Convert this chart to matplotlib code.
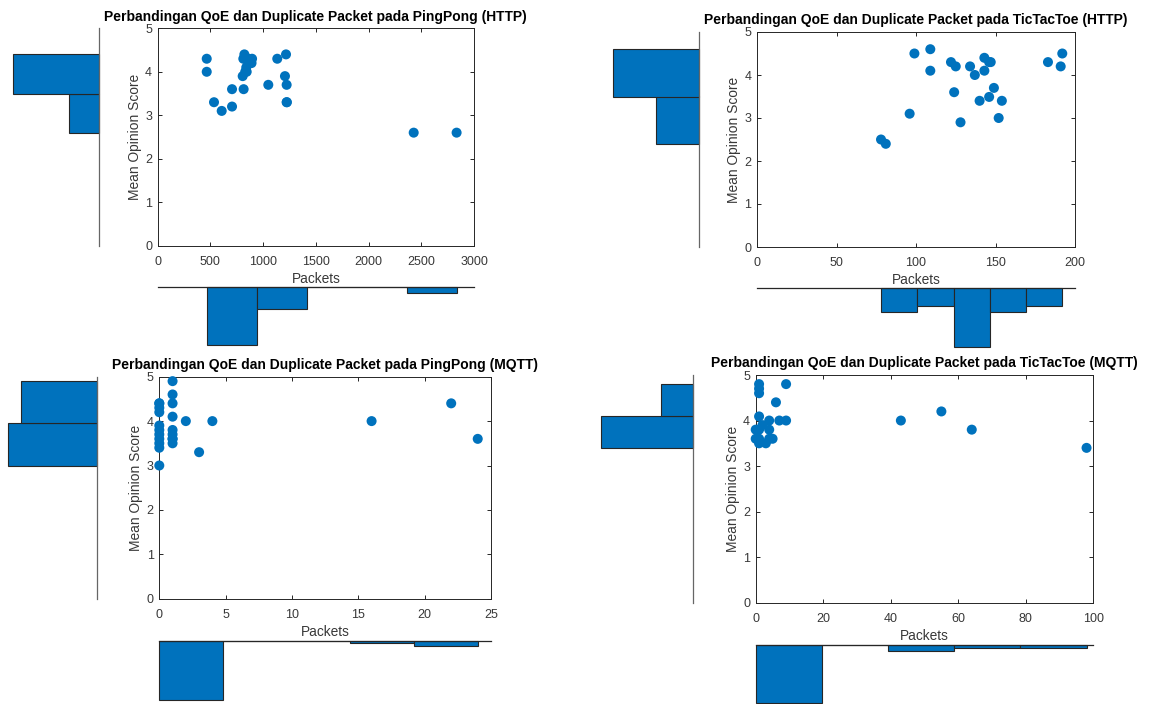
import numpy as np
import matplotlib
matplotlib.use('Agg')
import matplotlib.pyplot as plt

# PingPong (HTTP)
pp_http_packets = [465, 465, 534, 607, 705, 705, 822, 812, 835, 860, 895, 890, 860, 844,
                   830, 806, 815, 840, 1049, 1134, 1217, 1207, 1223, 1223, 1225, 2428, 2835]
pp_http_mos = [4.3, 4.0, 3.3, 3.1, 3.6, 3.2, 4.4, 4.3, 4.3, 4.3, 4.3, 4.2, 4.2, 4.0,
               4.0, 3.9, 3.6, 4.1, 3.7, 4.3, 4.4, 3.9, 3.7, 3.3, 3.3, 2.6, 2.6]

# TicTacToe (HTTP)
ttt_http_packets = [78, 81, 96, 99, 109, 109, 122, 125, 124, 128, 134, 137, 140, 143,
                    143, 146, 147, 146, 149, 152, 154, 183, 191, 192]
ttt_http_mos = [2.5, 2.4, 3.1, 4.5, 4.6, 4.1, 4.3, 4.2, 3.6, 2.9, 4.2, 4.0, 3.4, 4.4,
                4.1, 4.3, 4.3, 3.49, 3.7, 3.0, 3.4, 4.3, 4.2, 4.5]

# PingPong (MQTT)
pp_mqtt_packets = [0, 0, 0, 0, 0, 0, 0, 0, 0, 0, 0,
                   1, 1, 1, 1, 1, 1, 1, 1, 1,
                   2, 3, 4, 16, 22, 24]
pp_mqtt_mos = [4.4, 4.4, 4.3, 4.2, 3.9, 3.8, 3.7, 3.6, 3.5, 3.4, 3.0,
               4.9, 4.6, 4.4, 4.1, 3.8, 3.7, 3.6, 3.6, 3.5,
               4.0, 3.3, 4.0, 4.0, 4.4, 3.6]

# TicTacToe (MQTT)
ttt_mqtt_packets = [1, 1, 1, 9, 6, 55, 1, 4, 7, 9, 0, 1, 0, 1, 1, 2, 3, 4, 5, 4, 43, 64, 98]
ttt_mqtt_mos = [4.8, 4.7, 4.6, 4.8, 4.4, 4.2, 4.09, 4.0, 4.0, 4.0, 3.8, 3.8, 3.6, 3.6,
                3.5, 3.9, 3.5, 3.8, 3.6, 3.6, 4.0, 3.8, 3.4]

titles = ['Perbandingan QoE dan Duplicate Packet pada PingPong (HTTP)',
          'Perbandingan QoE dan Duplicate Packet pada TicTacToe (HTTP)',
          'Perbandingan QoE dan Duplicate Packet pada PingPong (MQTT)',
          'Perbandingan QoE dan Duplicate Packet pada TicTacToe (MQTT)']
x_max = [3000, 200, 25, 100]
x_step = [500, 50, 5, 20]
n_bins_x = 5
n_bins_y = 2

W, H = 1155, 704
BLUE = '#0072BD'
DARK = '#262626'
TXT = '#383838'

plt.rcParams['font.family'] = ['Liberation Sans', 'DejaVu Sans']
fig = plt.figure(figsize=(W / 100, H / 100), dpi=100)


def add_px(x0, y0, x1, y1):
    return fig.add_axes([x0 / W, 1 - y1 / H, (x1 - x0) / W, (y1 - y0) / H])


def only_spine(ax, side, color):
    for s in ax.spines:
        ax.spines[s].set_visible(s == side)
    ax.spines[side].set_color(color)
    ax.spines[side].set_linewidth(0.9)
    ax.set_xticks([])
    ax.set_yticks([])
    ax.patch.set_alpha(0)


def panel(xs, ys, title, xmax, xstep, box, lhist_x, bhist_y):
    x0, y0, x1, y1 = box
    ax = add_px(x0, y0, x1, y1)
    ax.scatter(xs, ys, s=52, color=BLUE, edgecolors='none', clip_on=False, zorder=3)
    ax.set_xlim(0, xmax)
    ax.set_ylim(0, 5)
    ax.set_xticks(np.arange(0, xmax + xstep / 2, xstep))
    ax.set_yticks(range(6))
    ax.tick_params(direction='in', top=True, right=True, length=3, width=0.7,
                   color=DARK, labelcolor=TXT, labelsize=9)
    ax.tick_params(axis='x', pad=7.5)
    ax.tick_params(axis='y', pad=4)
    for s in ax.spines.values():
        s.set_color(DARK)
        s.set_linewidth(0.7)
    ax.set_title(title, fontsize=10, fontweight='bold', pad=5.5)
    ax.set_xlabel('Packets', fontsize=9.9, color=TXT, labelpad=2.5)
    ax.set_ylabel('Mean Opinion Score', fontsize=9.9, color=TXT, labelpad=2.5)

    # marginal histogram of MOS (left, bars grow leftward)
    axl = add_px(lhist_x[0], y0, lhist_x[1], y1)
    cnt, _, patches = axl.hist(ys, bins=np.linspace(min(ys), max(ys), n_bins_y + 1),
                               orientation='horizontal', color=BLUE, edgecolor=DARK,
                               linewidth=0.8)
    for p in patches:
        p.set_clip_on(False)
    axl.set_xlim(cnt.max(), 0)
    axl.set_ylim(0, 5)
    only_spine(axl, 'right', '#666666')

    # marginal histogram of packets (bottom, bars grow downward)
    axb = add_px(x0, bhist_y[0], x1, bhist_y[1])
    cnt, _, patches = axb.hist(xs, bins=np.linspace(min(xs), max(xs), n_bins_x + 1),
                               color=BLUE, edgecolor=DARK, linewidth=0.8)
    for p in patches:
        p.set_clip_on(False)
    axb.set_ylim(cnt.max(), 0)
    axb.set_xlim(0, xmax)
    only_spine(axb, 'top', DARK)


panel(pp_http_packets, pp_http_mos, titles[0], x_max[0], x_step[0],
      (157.7, 28.3, 474, 245.7), (13, 99), (286.7, 345))
panel(ttt_http_packets, ttt_http_mos, titles[1], x_max[1], x_step[1],
      (757, 32, 1075, 247), (613, 699), (288.3, 347))
panel(pp_mqtt_packets, pp_mqtt_mos, titles[2], x_max[2], x_step[2],
      (159.3, 376.7, 491, 598.7), (8.3, 97.3), (640.7, 700))
panel(ttt_mqtt_packets, ttt_mqtt_mos, titles[3], x_max[3], x_step[3],
      (755.7, 375, 1093.3, 602.7), (601, 693.3), (645, 703.3))

fig.savefig('out.png', dpi=100)
